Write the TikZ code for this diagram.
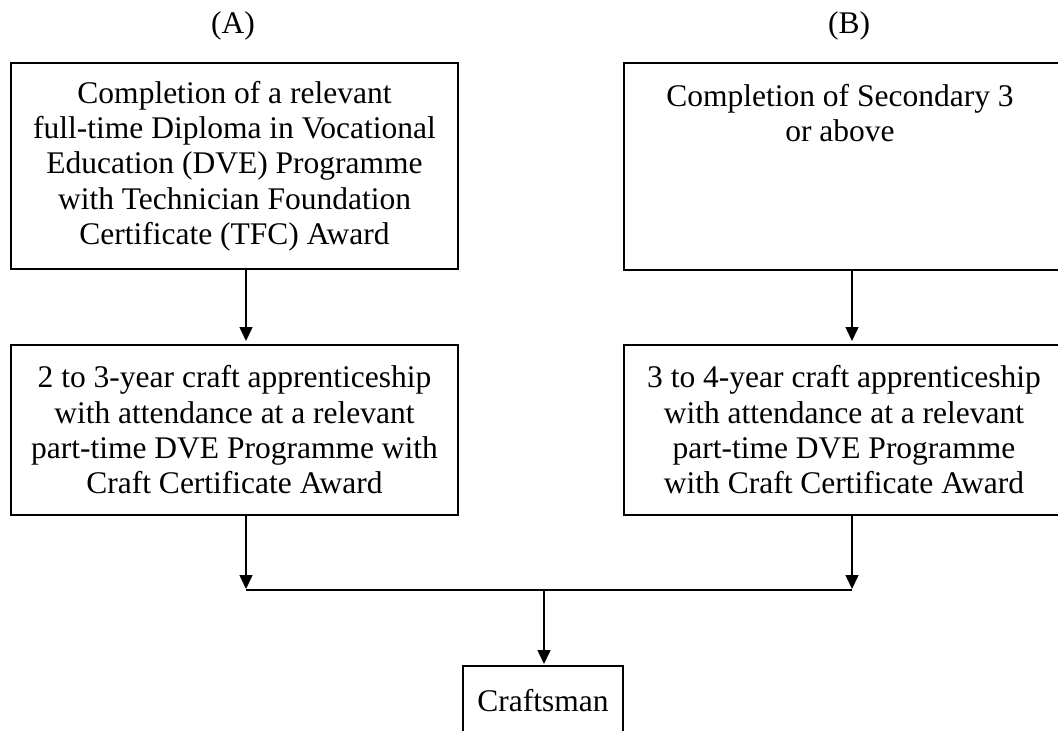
\documentclass[tikz,border=0pt]{standalone}
\usepackage{fontspec}
\setmainfont{Liberation Serif}
\usetikzlibrary{arrows.meta}
\begin{document}
\begin{tikzpicture}[x=1pt,y=-1pt,
  box/.style={draw,line width=2pt,rectangle,inner sep=0pt,align=center,
              font=\fontsize{31.5}{35.3}\selectfont},
  txt/.style={inner sep=0pt,align=center,font=\fontsize{31.5}{35.3}\selectfont},
  arr/.style={line width=1.5pt,-{Triangle[length=14pt,width=13pt]}},
  busline/.style={line width=2pt}]
\useasboundingbox (0,0) rectangle (1058,731);
\clip (0,0) rectangle (1058,731);

% column headings
\node[txt] (labA) at (233,26) {(A)};
\node[txt] (labB) at (849,26) {(B)};

% route (A)
\node[box,minimum width=447pt,minimum height=206pt] (a1) at (234.5,166)
  {Completion of a relevant\\full-time Diploma in Vocational\\Education (DVE) Programme\\with Technician Foundation\\Certificate (TFC) Award};
\node[box,minimum width=447pt,minimum height=170pt] (a2) at (234.5,430)
  {2 to 3-year craft apprenticeship\\with attendance at a relevant\\part-time DVE Programme with\\Craft Certificate Award};

% route (B)
\node[box,minimum width=452pt,minimum height=207pt] (b1) at (850,166.5) {};
\node[txt,anchor=north] (b1t) at (840,84) {Completion of Secondary 3\\or above};
\node[box,minimum width=452pt,minimum height=170pt] (b2) at (850,430) {};
\node[txt] (b2t) at (844,430)
  {3 to 4-year craft apprenticeship\\with attendance at a relevant\\part-time DVE Programme\\with Craft Certificate Award};

% outcome
\node[box,anchor=north,minimum width=160pt,minimum height=69pt] (craft) at (543,665) {Craftsman};

% connectors
\coordinate (xa) at (246,0);
\coordinate (xb) at (852,0);
\coordinate (ma) at (246,590);
\coordinate (mb) at (852,590);
\coordinate (mc) at (544,590);

\draw[arr,shorten >=3pt] (a1.south -| xa) -- (a2.north -| xa);
\draw[arr,shorten >=3pt] (b1.south -| xb) -- (b2.north -| xb);
\draw[arr,shorten >=1pt] (a2.south -| xa) -- (ma);
\draw[arr,shorten >=1pt] (b2.south -| xb) -- (mb);
\draw[busline] (ma) -- (mb);
\draw[arr,shorten >=1pt] (mc) -- (craft.north -| mc);
\end{tikzpicture}
\end{document}
